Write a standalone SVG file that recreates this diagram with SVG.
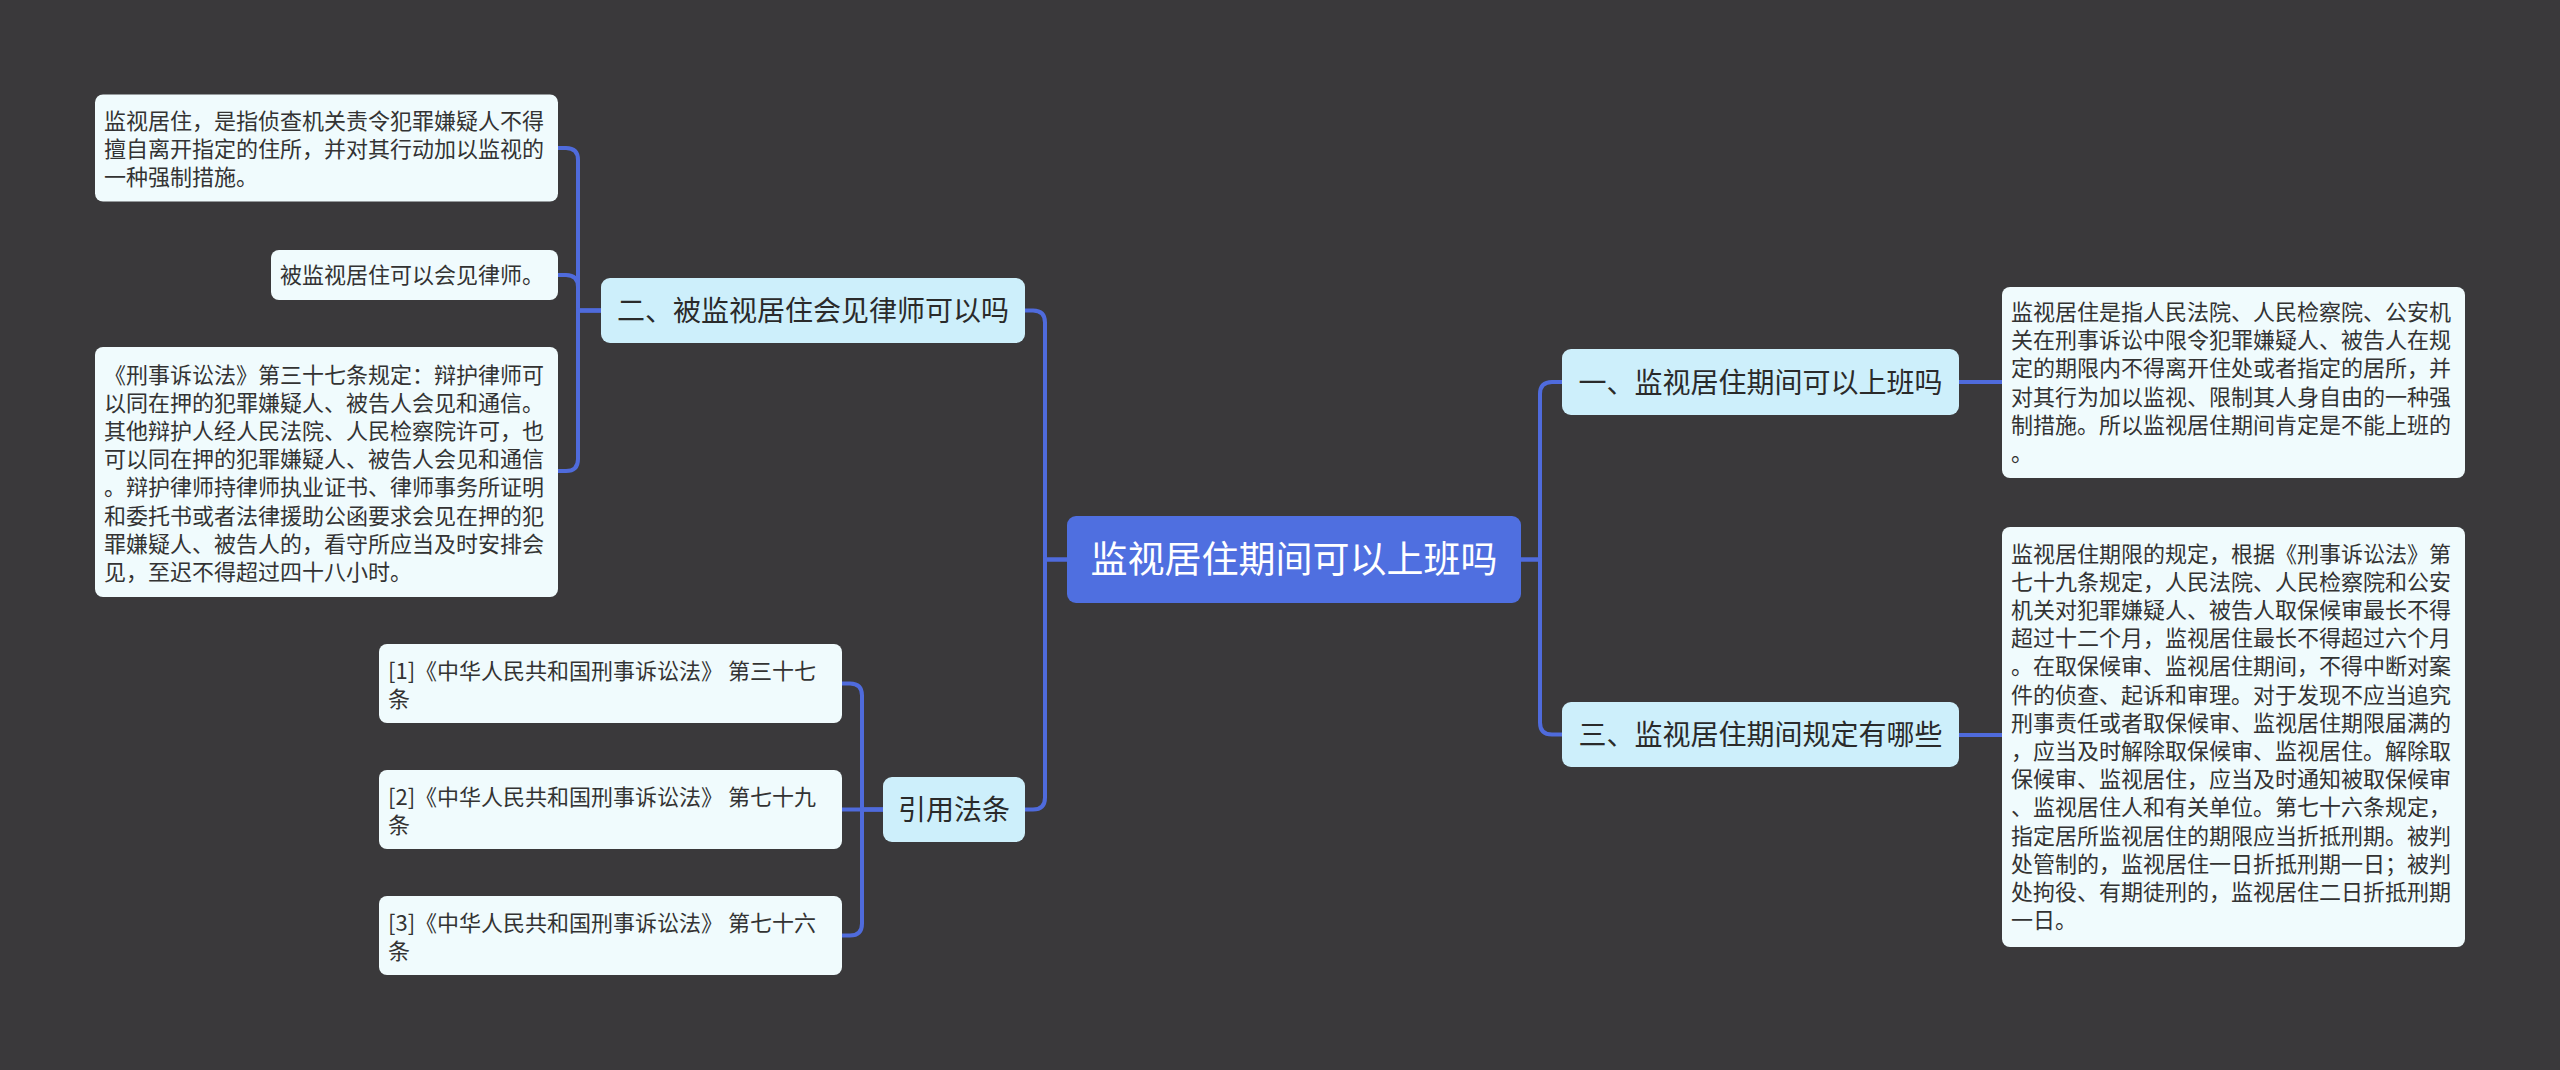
<svg xmlns="http://www.w3.org/2000/svg" width="2560" height="1070" viewBox="0 0 2560 1070">
<style>
.bg{fill:#3a393b}
.leaf rect{fill:#f0fbfd}
.l1 rect{fill:#cdeffb}
.root rect{fill:#4f6fe0}
text{font-family:"Noto Sans CJK SC","Noto Sans",sans-serif}
.leaf text{font-size:22px;fill:#333333}
.l1 text{font-size:28px;fill:#2a2a2a;text-anchor:middle}
.root text{font-size:37px;fill:#ffffff;text-anchor:middle}
.conn path{fill:none;stroke:#4f6bdc;stroke-width:4}
</style>
<rect class="bg" x="0" y="0" width="2560" height="1070"/>
<g class="conn" id="connectors">
<path d="M1067,559.5 H1045 V322.5 Q1045,310.5 1033,310.5 H1025"/>
<path d="M1067,559.5 H1045 V797.5 Q1045,809.5 1033,809.5 H1025"/>
<path d="M1521,559.5 H1540 V394 Q1540,382 1552,382 H1562"/>
<path d="M1521,559.5 H1540 V722.5 Q1540,734.5 1552,734.5 H1562"/>
<path d="M1959,382 H2002"/>
<path d="M1959,735 H2002"/>
<path d="M601,310.5 H578 V160 Q578,148 566,148 H558"/>
<path d="M601,310.5 H578 V287 Q578,275 566,275 H558"/>
<path d="M601,310.5 H578 V459 Q578,471 566,471 H558"/>
<path d="M883,809.5 H862 V695.5 Q862,683.5 850,683.5 H842"/>
<path d="M883,809.5 H842"/>
<path d="M883,809.5 H862 V923.5 Q862,935.5 850,935.5 H842"/>
</g>
<g class="root" id="root">
<rect x="1067" y="516" width="454" height="87" rx="9"/>
<text x="1294" y="573">监视居住期间可以上班吗</text>
</g>
<g class="l1" id="n-two">
<rect x="601" y="278" width="424" height="65" rx="9"/>
<text x="813" y="321">二、被监视居住会见律师可以吗</text>
</g>
<g class="l1" id="n-one">
<rect x="1562" y="349" width="397" height="66" rx="9"/>
<text x="1760.5" y="392.5">一、监视居住期间可以上班吗</text>
</g>
<g class="l1" id="n-three">
<rect x="1562" y="702" width="397" height="65" rx="9"/>
<text x="1760.5" y="745">三、监视居住期间规定有哪些</text>
</g>
<g class="l1" id="n-refs">
<rect x="883" y="777" width="142" height="65" rx="9"/>
<text x="954" y="820">引用法条</text>
</g>
<g class="leaf" id="leaf-a">
<rect x="95" y="94.5" width="463" height="107" rx="8"/>
<text x="104" y="129"><tspan x="104">监视居住，是指侦查机关责令犯罪嫌疑人不得</tspan><tspan x="104" dy="28.2">擅自离开指定的住所，并对其行动加以监视的</tspan><tspan x="104" dy="28.2">一种强制措施。</tspan></text>
</g>
<g class="leaf" id="leaf-b">
<rect x="271" y="250" width="287" height="50" rx="8"/>
<text x="280" y="283">被监视居住可以会见律师。</text>
</g>
<g class="leaf" id="leaf-c">
<rect x="95" y="347" width="463" height="250" rx="8"/>
<text x="104" y="382.5"><tspan x="104">《刑事诉讼法》第三十七条规定：辩护律师可</tspan><tspan x="104" dy="28.2">以同在押的犯罪嫌疑人、被告人会见和通信。</tspan><tspan x="104" dy="28.2">其他辩护人经人民法院、人民检察院许可，也</tspan><tspan x="104" dy="28.2">可以同在押的犯罪嫌疑人、被告人会见和通信</tspan><tspan x="104" dy="28.2">。辩护律师持律师执业证书、律师事务所证明</tspan><tspan x="104" dy="28.2">和委托书或者法律援助公函要求会见在押的犯</tspan><tspan x="104" dy="28.2">罪嫌疑人、被告人的，看守所应当及时安排会</tspan><tspan x="104" dy="28.2">见，至迟不得超过四十八小时。</tspan></text>
</g>
<g class="leaf" id="leaf-ref1">
<rect x="379" y="644" width="463" height="79" rx="8"/>
<text x="388" y="678.5"><tspan x="388">[1]《中华人民共和国刑事诉讼法》 第三十七</tspan><tspan x="388" dy="28.2">条</tspan></text>
</g>
<g class="leaf" id="leaf-ref2">
<rect x="379" y="770" width="463" height="79" rx="8"/>
<text x="388" y="804.5"><tspan x="388">[2]《中华人民共和国刑事诉讼法》 第七十九</tspan><tspan x="388" dy="28.2">条</tspan></text>
</g>
<g class="leaf" id="leaf-ref3">
<rect x="379" y="896" width="463" height="79" rx="8"/>
<text x="388" y="930.5"><tspan x="388">[3]《中华人民共和国刑事诉讼法》 第七十六</tspan><tspan x="388" dy="28.2">条</tspan></text>
</g>
<g class="leaf" id="leaf-one">
<rect x="2002" y="287" width="463" height="191" rx="8"/>
<text x="2011" y="320"><tspan x="2011">监视居住是指人民法院、人民检察院、公安机</tspan><tspan x="2011" dy="28.2">关在刑事诉讼中限令犯罪嫌疑人、被告人在规</tspan><tspan x="2011" dy="28.2">定的期限内不得离开住处或者指定的居所，并</tspan><tspan x="2011" dy="28.2">对其行为加以监视、限制其人身自由的一种强</tspan><tspan x="2011" dy="28.2">制措施。所以监视居住期间肯定是不能上班的</tspan><tspan x="2011" dy="28.2">。</tspan></text>
</g>
<g class="leaf" id="leaf-three">
<rect x="2002" y="527" width="463" height="420" rx="8"/>
<text x="2011" y="561.5"><tspan x="2011">监视居住期限的规定，根据《刑事诉讼法》第</tspan><tspan x="2011" dy="28.2">七十九条规定，人民法院、人民检察院和公安</tspan><tspan x="2011" dy="28.2">机关对犯罪嫌疑人、被告人取保候审最长不得</tspan><tspan x="2011" dy="28.2">超过十二个月，监视居住最长不得超过六个月</tspan><tspan x="2011" dy="28.2">。在取保候审、监视居住期间，不得中断对案</tspan><tspan x="2011" dy="28.2">件的侦查、起诉和审理。对于发现不应当追究</tspan><tspan x="2011" dy="28.2">刑事责任或者取保候审、监视居住期限届满的</tspan><tspan x="2011" dy="28.2">，应当及时解除取保候审、监视居住。解除取</tspan><tspan x="2011" dy="28.2">保候审、监视居住，应当及时通知被取保候审</tspan><tspan x="2011" dy="28.2">、监视居住人和有关单位。第七十六条规定，</tspan><tspan x="2011" dy="28.2">指定居所监视居住的期限应当折抵刑期。被判</tspan><tspan x="2011" dy="28.2">处管制的，监视居住一日折抵刑期一日；被判</tspan><tspan x="2011" dy="28.2">处拘役、有期徒刑的，监视居住二日折抵刑期</tspan><tspan x="2011" dy="28.2">一日。</tspan></text>
</g>
</svg>
